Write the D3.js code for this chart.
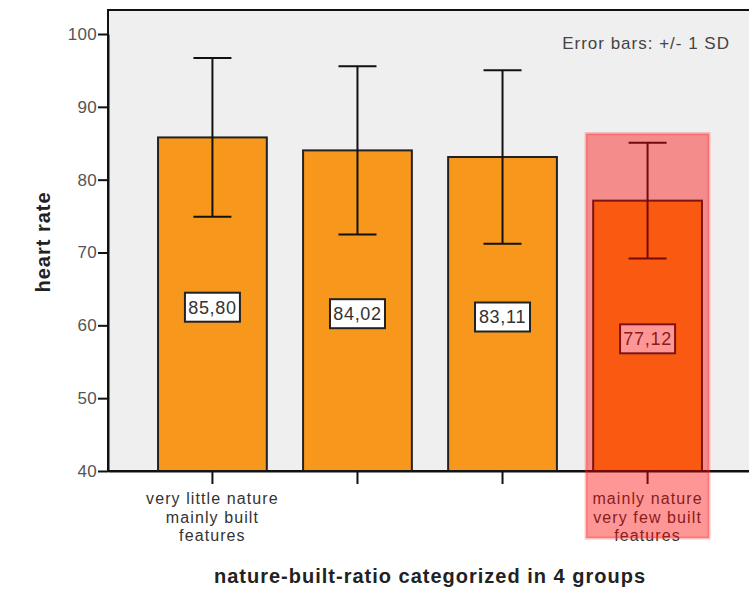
<!DOCTYPE html>
<html>
<head>
<meta charset="utf-8">
<script src="https://cdn.jsdelivr.net/npm/d3@7"></script>
<style>
  body { margin: 0; background: #fff; }
  svg { display: block; font-family: Arial, "Liberation Sans", sans-serif; }
</style>
</head>
<body>
<div class="chartDiv"></div>
<script>
// values
var categories = ['g1', 'g2', 'g3', 'g4'];
var categoryLabels = [
    ['very little nature', 'mainly built', 'features'],
    [],
    [],
    ['mainly nature', 'very few built', 'features']
];
var meanValues = [85.80, 84.02, 83.11, 77.12];
var sdValues = [10.9, 11.55, 11.9, 7.95];
var valueLabels = ['85,80', '84,02', '83,11', '77,12'];
var yTicks = [40, 50, 60, 70, 80, 90, 100];

const chartWidth = 749;
const chartHeight = 598;

const plotLeft = 108;
const plotRight = 752;
const plotTop = 10;
const plotBottom = 471;

const barColor = '#f7981d';
const bgColor = '#efefef';

var svg = d3.select('.chartDiv')
    .append('svg')
    .attr('width', chartWidth)
    .attr('height', chartHeight);

var x = d3.scaleBand()
    .domain(categories)
    .range([plotLeft, plotRight])
    .paddingInner(0.25)
    .paddingOuter(0.345);

var y = d3.scaleLinear()
    .domain([40, 100])
    .range([plotBottom, 34]);

// plot background
svg.append('rect')
    .attr('x', plotLeft)
    .attr('y', plotTop)
    .attr('width', plotRight - plotLeft)
    .attr('height', plotBottom - plotTop)
    .attr('fill', bgColor)
    .attr('stroke', '#111')
    .attr('stroke-width', 2);

// bars
svg.selectAll('rect.bar')
    .data(meanValues)
    .enter()
    .append('rect')
    .attr('class', 'bar')
    .attr('x', (d, i) => x(categories[i]))
    .attr('y', d => y(d))
    .attr('width', x.bandwidth())
    .attr('height', d => y(40) - y(d))
    .attr('fill', barColor)
    .attr('stroke', '#222')
    .attr('stroke-width', 2);

// error bars (+/- 1 SD)
const capWidth = 38;
var err = svg.selectAll('g.err')
    .data(meanValues)
    .enter()
    .append('g')
    .attr('class', 'err')
    .attr('stroke', '#111')
    .attr('stroke-width', 2);

err.append('line')
    .attr('x1', (d, i) => x(categories[i]) + x.bandwidth() / 2)
    .attr('x2', (d, i) => x(categories[i]) + x.bandwidth() / 2)
    .attr('y1', (d, i) => y(d + sdValues[i]))
    .attr('y2', (d, i) => y(d - sdValues[i]));

err.append('line')
    .attr('x1', (d, i) => x(categories[i]) + x.bandwidth() / 2 - capWidth / 2)
    .attr('x2', (d, i) => x(categories[i]) + x.bandwidth() / 2 + capWidth / 2)
    .attr('y1', (d, i) => y(d + sdValues[i]))
    .attr('y2', (d, i) => y(d + sdValues[i]));

err.append('line')
    .attr('x1', (d, i) => x(categories[i]) + x.bandwidth() / 2 - capWidth / 2)
    .attr('x2', (d, i) => x(categories[i]) + x.bandwidth() / 2 + capWidth / 2)
    .attr('y1', (d, i) => y(d - sdValues[i]))
    .attr('y2', (d, i) => y(d - sdValues[i]));

// value label boxes in middle of bars
const boxW = 55;
const boxH = 29;
var labels = svg.selectAll('g.valLabel')
    .data(meanValues)
    .enter()
    .append('g')
    .attr('class', 'valLabel')
    .attr('transform', (d, i) => {
        const cx = x(categories[i]) + x.bandwidth() / 2;
        const cy = (y(d) + y(40)) / 2 + 3;
        return 'translate(' + cx + ',' + cy + ')';
    });

labels.append('rect')
    .attr('x', -boxW / 2)
    .attr('y', -boxH / 2)
    .attr('width', boxW)
    .attr('height', boxH)
    .attr('fill', '#fff')
    .attr('stroke', '#222')
    .attr('stroke-width', 2);

labels.append('text')
    .attr('text-anchor', 'middle')
    .attr('dy', '0.36em')
    .attr('font-size', 18)
    .attr('letter-spacing', 0.7)
    .attr('fill', '#333')
    .text((d, i) => valueLabels[i]);

// y axis
var yAxis = svg.append('g')
    .attr('transform', 'translate(' + plotLeft + ',0)')
    .call(d3.axisLeft(y).tickValues(yTicks).tickSize(10).tickSizeOuter(0).tickPadding(1).tickFormat(d3.format('d')));
yAxis.select('.domain').attr('stroke', '#111').attr('stroke-width', 2);
yAxis.selectAll('.tick line').attr('stroke', '#111').attr('stroke-width', 2);
yAxis.selectAll('.tick text')
    .attr('font-size', 17)
    .attr('letter-spacing', 0.3)
    .attr('fill', '#555')
    .attr('font-family', 'Arial, "Liberation Sans", sans-serif');

// x axis
var xAxis = svg.append('g')
    .attr('transform', 'translate(0,' + plotBottom + ')')
    .call(d3.axisBottom(x).tickSize(13).tickSizeOuter(0).tickFormat(''));
xAxis.select('.domain').attr('stroke', '#111').attr('stroke-width', 2);
xAxis.selectAll('.tick line').attr('stroke', '#111').attr('stroke-width', 2);

// multi-line category labels
svg.selectAll('text.catLabel')
    .data(categoryLabels)
    .enter()
    .append('text')
    .attr('class', 'catLabel')
    .attr('text-anchor', 'middle')
    .attr('font-size', 16)
    .attr('letter-spacing', 1.1)
    .attr('fill', '#333')
    .each(function (d, i) {
        const cx = x(categories[i]) + x.bandwidth() / 2;
        d3.select(this).selectAll('tspan')
            .data(d)
            .enter()
            .append('tspan')
            .attr('x', cx)
            .attr('y', (t, j) => 504 + j * 18.5)
            .text(t => t);
    });

// axis titles
svg.append('text')
    .attr('transform', 'translate(50,242) rotate(-90)')
    .attr('text-anchor', 'middle')
    .attr('font-size', 20)
    .attr('font-weight', 'bold')
    .attr('letter-spacing', 1)
    .attr('fill', '#222')
    .text('heart rate');

svg.append('text')
    .attr('x', 430)
    .attr('y', 583)
    .attr('text-anchor', 'middle')
    .attr('font-size', 20)
    .attr('font-weight', 'bold')
    .attr('letter-spacing', 1)
    .attr('fill', '#222')
    .text('nature-built-ratio categorized in 4 groups');

svg.append('text')
    .attr('x', 730)
    .attr('y', 49)
    .attr('text-anchor', 'end')
    .attr('font-size', 17)
    .attr('letter-spacing', 1)
    .attr('fill', '#444')
    .text('Error bars: +/- 1 SD');

// red highlight over the last group
const hlPad = 7;
svg.append('rect')
    .attr('x', x(categories[3]) - hlPad)
    .attr('y', y(meanValues[3] + sdValues[3]) - 9)
    .attr('width', x.bandwidth() + hlPad * 2)
    .attr('height', 538 - (y(meanValues[3] + sdValues[3]) - 9))
    .attr('fill', 'rgba(255,0,0,0.41)')
    .attr('stroke', 'rgba(255,40,40,0.3)')
    .attr('stroke-width', 3);
</script>
</body>
</html>
